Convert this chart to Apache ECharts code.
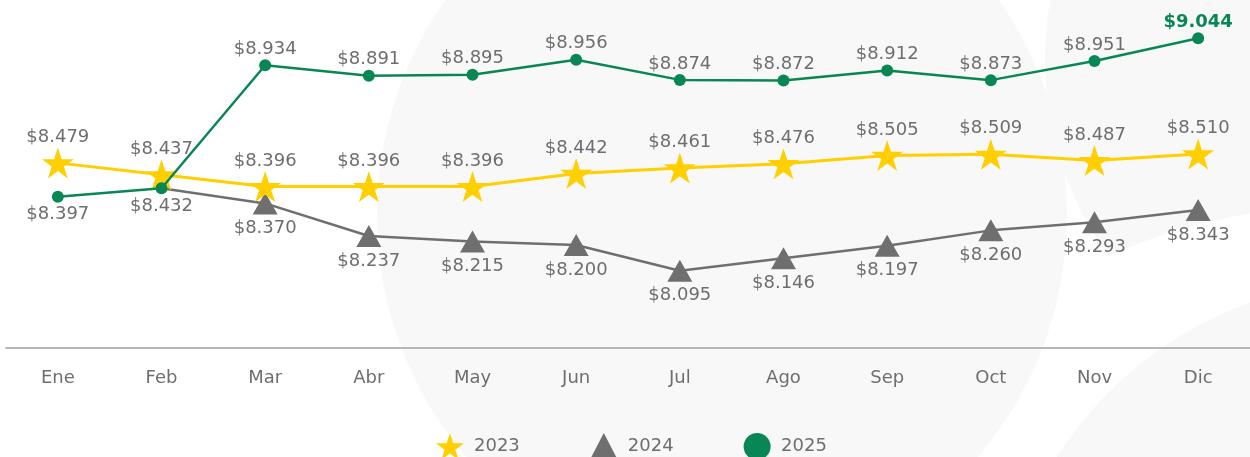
<!DOCTYPE html>
<html>
<head>
<meta charset="utf-8">
<script src="https://cdn.jsdelivr.net/npm/echarts@6/dist/echarts.min.js"></script>
<style>
  html, body { margin: 0; padding: 0; background: #fff; }
  #chart { width: 1250px; height: 457px; }
</style>
</head>
<body>
<div id="chart"></div>
<script>
const months = ["Ene", "Feb", "Mar", "Abr", "May", "Jun", "Jul", "Ago", "Sep", "Oct", "Nov", "Dic"];
const years = ["2023", "2024", "2025"];
const values2023 = [8.479, 8.437, 8.396, 8.396, 8.396, 8.442, 8.461, 8.476, 8.505, 8.509, 8.487, 8.510];
// 2024 line starts at the Feb point of 2025 (no marker there)
const values2024 = [null, 8.432, 8.370, 8.237, 8.215, 8.200, 8.095, 8.146, 8.197, 8.260, 8.293, 8.343];
const values2025 = [8.397, 8.432, 8.934, 8.891, 8.895, 8.956, 8.874, 8.872, 8.912, 8.873, 8.951, 9.044];

const GREEN = "#088755";
const YELLOW = "#ffcf00";
const GRAY = "#6f6f6f";
const TEXT = "#6e6e6e";
const FONT = "DejaVu Sans";
const BG = "#f8f8f8";
const STAR = "path://M50,0 L61.8,36.3 L100,36.3 L69.1,58.8 L80.9,95.1 L50,72.6 L19.1,95.1 L30.9,58.8 L0,36.3 L38.2,36.3 Z";

const money = (p) => "$" + Number(p.value).toFixed(3);

const baseLabel = {
  show: true,
  color: TEXT,
  fontFamily: FONT,
  fontSize: 18,
  formatter: money,
};

const data2024 = values2024.map((v, i) => {
  if (v == null) return "-";
  if (i === 1) return { value: v, symbolSize: 0, label: { show: false } };
  return v;
});

const data2025 = values2025.map((v, i) => {
  if (i < 2) return { value: v, label: { position: "bottom", distance: 3 } };
  if (i === values2025.length - 1)
    return { value: v, label: { color: GREEN, fontWeight: "bold" } };
  return v;
});

const chart = echarts.init(document.getElementById("chart"), null, { renderer: "canvas" });

chart.setOption({
  animation: false,
  backgroundColor: "#ffffff",
  graphic: [
    { type: "circle", shape: { cx: 1380, cy: 60, r: 335 }, style: { fill: BG }, z: -10, silent: true },
    { type: "circle", shape: { cx: 1350, cy: 805, r: 600 }, style: { fill: "#ffffff" }, z: -9, silent: true },
    { type: "circle", shape: { cx: 1380, cy: 664, r: 384 }, style: { fill: BG }, z: -8, silent: true },
    { type: "circle", x: 722, y: 215, scaleX: 0.958, shape: { cx: 0, cy: 0, r: 360 }, style: { fill: BG }, z: -7, silent: true },
  ],
  grid: { left: 6, right: -4, top: 0, bottom: 109, containLabel: false },
  legend: {
    data: [
      { name: "2023", icon: STAR },
      { name: "2024", icon: "triangle" },
      { name: "2025", icon: "circle" },
    ],
    left: 431,
    top: 428,
    itemWidth: 28,
    itemHeight: 27,
    itemGap: 70,
    textStyle: { color: TEXT, fontFamily: FONT, fontSize: 18, padding: [0, 0, 0, 5] },
  },
  xAxis: {
    type: "category",
    data: months,
    boundaryGap: true,
    axisLine: { show: true, lineStyle: { color: "#a0a0a0", width: 1.5 } },
    axisTick: { show: false },
    axisLabel: { color: TEXT, fontFamily: FONT, fontSize: 18, margin: 21 },
    splitLine: { show: false },
  },
  yAxis: [
    { type: "value", min: 7.78, max: 9.2, show: false, splitLine: { show: false } },
    { type: "value", min: 7.83, max: 9.05, show: false, splitLine: { show: false } },
  ],
  series: [
    {
      name: years[0],
      type: "line",
      yAxisIndex: 1,
      data: values2023,
      symbol: STAR,
      symbolSize: [32, 31],
      z: 3,
      lineStyle: { color: YELLOW, width: 3 },
      itemStyle: { color: YELLOW },
      label: { ...baseLabel, position: "top", distance: 1 },
    },
    {
      name: years[1],
      type: "line",
      data: data2024,
      symbol: "triangle",
      symbolSize: [25, 22],
      z: 2,
      lineStyle: { color: GRAY, width: 2.5 },
      itemStyle: { color: GRAY },
      label: { ...baseLabel, position: "bottom", distance: 5 },
    },
    {
      name: years[2],
      type: "line",
      data: data2025,
      symbol: "circle",
      symbolSize: 12,
      z: 4,
      lineStyle: { color: GREEN, width: 2.5 },
      itemStyle: { color: GREEN },
      label: { ...baseLabel, position: "top", distance: 1 },
    },
  ],
});
</script>
</body>
</html>
